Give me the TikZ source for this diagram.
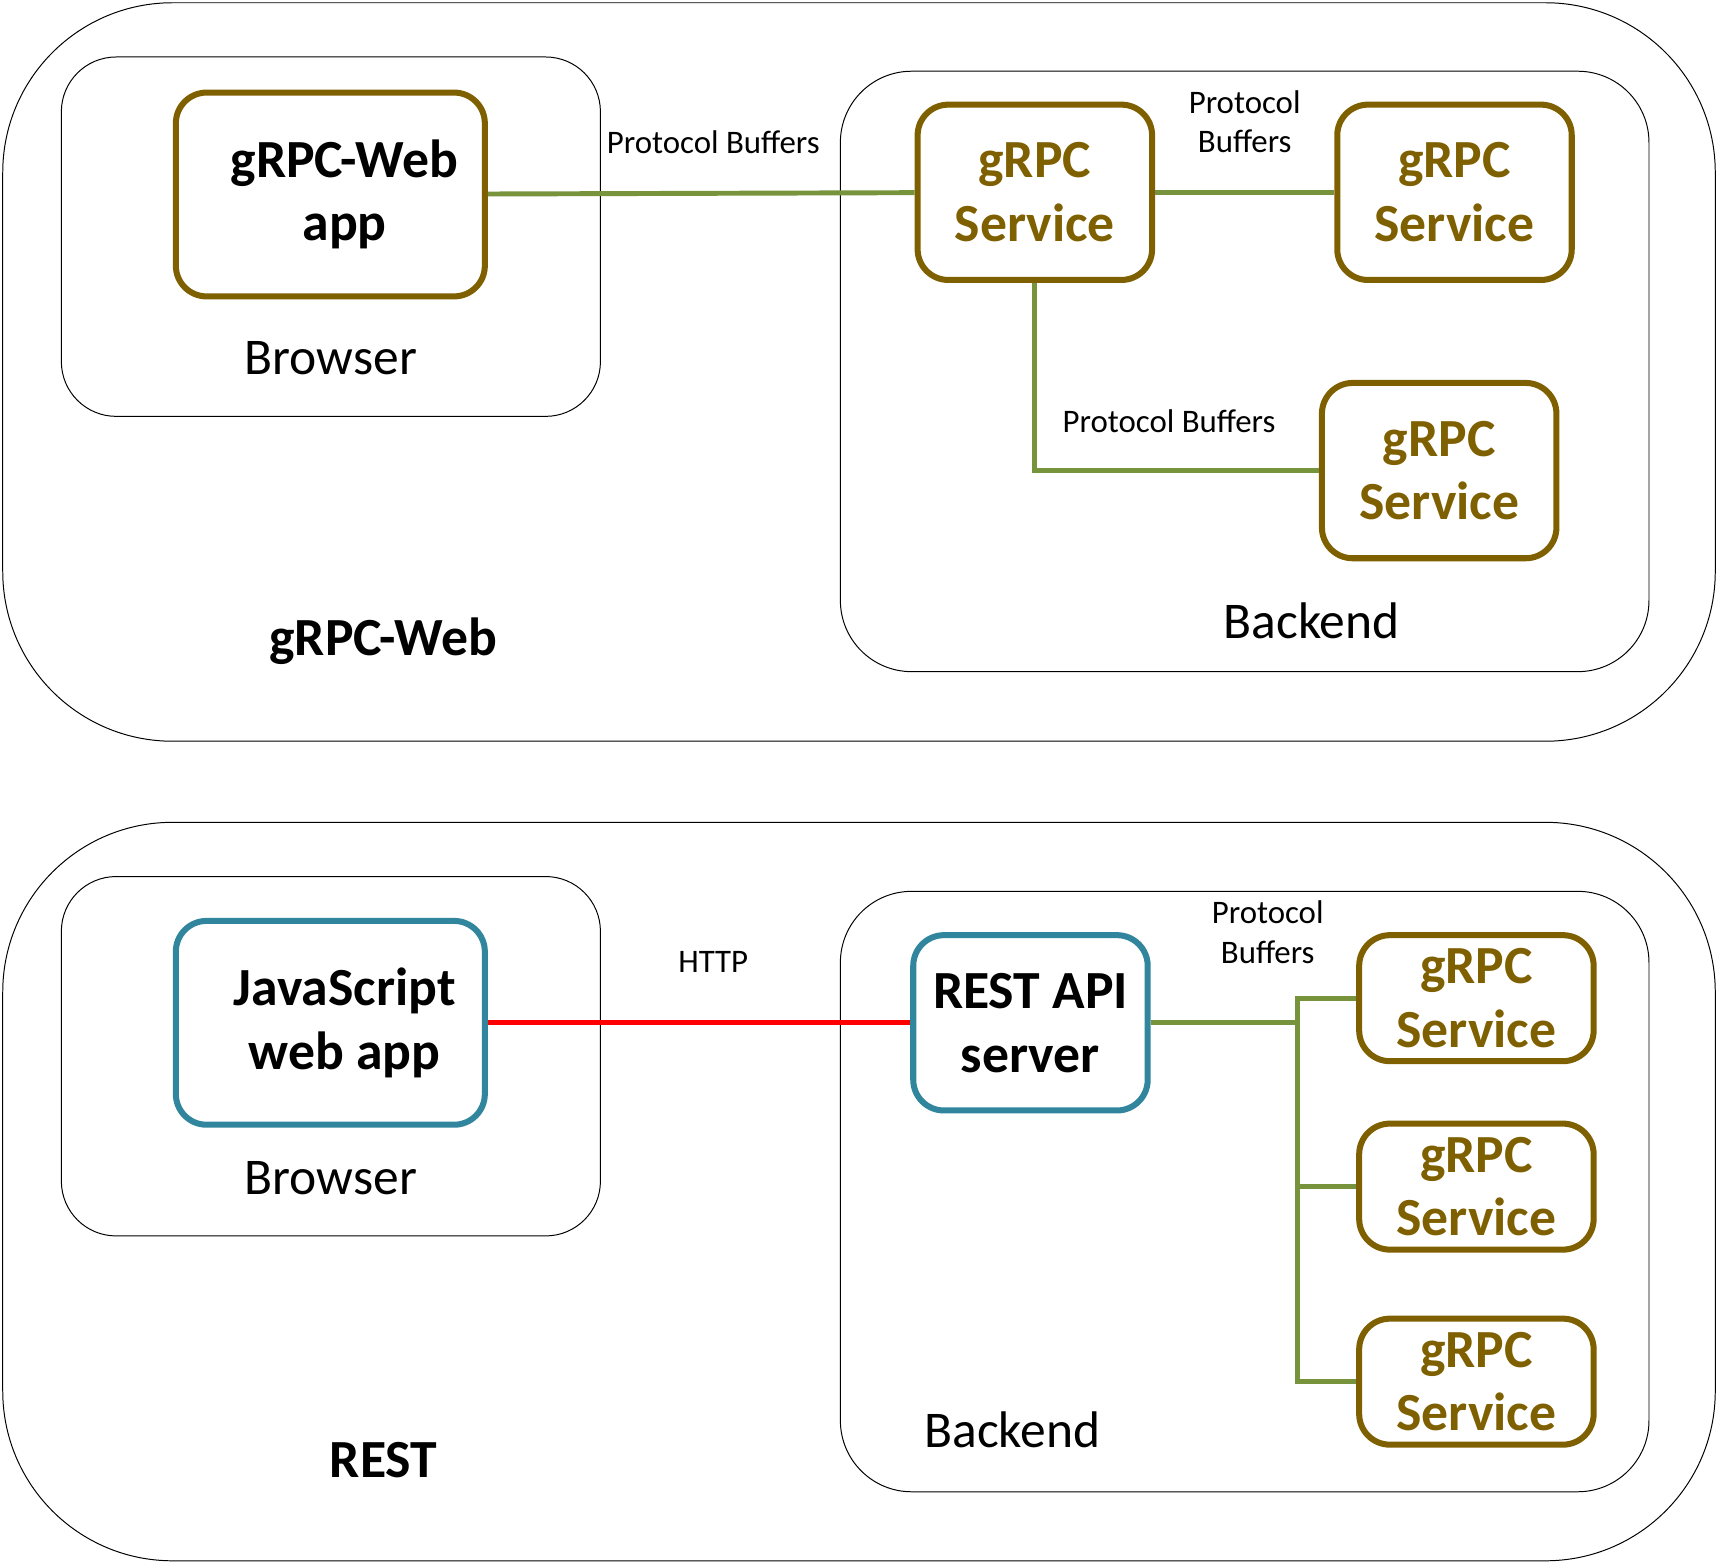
\documentclass[tikz,border=0pt]{standalone}
\usepackage{fontspec}
\setmainfont{Carlito}
\definecolor{svcbrown}{HTML}{7F6000}
\definecolor{pbgreen}{HTML}{77933C}
\definecolor{restteal}{HTML}{31859C}
\begin{document}
\begin{tikzpicture}[x=1pt, y=-1pt,
	areabox/.style={draw, line width=0.9pt, rounded corners=155pt, minimum width=1563pt, minimum height=674pt},
	hostbox/.style={draw, line width=0.9pt, rounded corners=50pt, minimum width=492pt, minimum height=328pt},
	backbox/.style={draw, line width=0.9pt, rounded corners=65pt, minimum width=738pt, minimum height=548pt},
	svcbox/.style={draw=svcbrown, line width=5.5pt, rounded corners=28pt, inner sep=0pt, text=svcbrown, align=center, font=\bfseries\fontsize{49}{58}\selectfont, minimum width=214pt, minimum height=160pt},
	appbox/.style={svcbox, draw=restteal, text=black},
	hostlabel/.style={font=\fontsize{47}{56}\selectfont},
	heading/.style={font=\bfseries\fontsize{49}{58}\selectfont},
	pblabel/.style={font=\fontsize{30}{36}\selectfont, align=center},
	pbline/.style={draw=pbgreen, line width=4.5pt},
	httpline/.style={draw=red, line width=4.5pt}]
	\useasboundingbox (0,0) rectangle (1568,1428);
	% gRPC-Web
	\node (webarea) at ( 784, 339.5)	[areabox]	{};
	\node (webhost) at ( 302, 216)	[hostbox]	{};
	\node (webback) at (1136, 339)	[backbox]	{};
	\node (webapp) at ( 301.5, 177.5)	[svcbox, text=black, minimum width=282pt, minimum height=186pt]	{\hspace*{26pt}gRPC-Web\\\hspace*{26pt}app};
	\node (svcA) at ( 944.5, 175.5)	[svcbox]	{gRPC\\Service};
	\node (svcB) at (1327.5, 175.5)	[svcbox]	{gRPC\\Service};
	\node (svcC) at (1313.5, 429.5)	[svcbox]	{gRPC\\Service};
	\node (webbrowser) at ( 302, 327)	[hostlabel]	{Browser};
	\node (webbackend) at (1197, 567)	[hostlabel]	{Backend};
	\node (webtitle) at ( 350, 585)	[heading]	{gRPC-Web};
	\node (pbA) at ( 651, 130)	[pblabel]	{Protocol Buffers};
	\node (pbB) at (1136, 111)	[pblabel]	{Protocol\\Buffers};
	\node (pbC) at (1067, 384)	[pblabel]	{Protocol Buffers};
	\draw[pbline] (webapp) -- (svcA);
	\draw[pbline] (svcA) -- (svcB);
	\draw[pbline] (svcA.south) |- (svcC.west);
	% REST
	\node (restarea) at ( 784, 1087.5)	[areabox]	{};
	\node (resthost) at ( 302, 964)	[hostbox]	{};
	\node (restback) at (1136, 1087.5)	[backbox]	{};
	\node (jsapp) at ( 301.5, 933.5)	[appbox, minimum width=282pt, minimum height=186pt]	{\hspace*{26pt}JavaScript\\\hspace*{26pt}web app};
	\node (api) at ( 940.5, 933.5)	[appbox]	{REST API\\server};
	\node (g1) at (1347.5, 911)	[svcbox, minimum height=115pt]	{gRPC\\Service};
	\node (g2) at (1347.5, 1083)	[svcbox, minimum height=115pt]	{gRPC\\Service};
	\node (g3) at (1347.5, 1261)	[svcbox, minimum height=115pt]	{gRPC\\Service};
	\node (restbrowser) at ( 302, 1075)	[hostlabel]	{Browser};
	\node (restbackend) at ( 924, 1305)	[hostlabel]	{Backend};
	\node (resttitle) at ( 350, 1333)	[heading]	{REST};
	\node (http) at ( 651, 878)	[pblabel]	{HTTP};
	\node (pbD) at (1157, 851)	[pblabel]	{Protocol\\Buffers};
	\coordinate (bus) at (1184, 933.5);
	\draw[httpline] (jsapp) -- (api);
	\draw[pbline] (api) -- (bus);
	\draw[pbline] (g1.west) -| (bus) |- (g3.west);
	\draw[pbline] (g2.west) -- (g2.west -| bus);
\end{tikzpicture}
\end{document}
